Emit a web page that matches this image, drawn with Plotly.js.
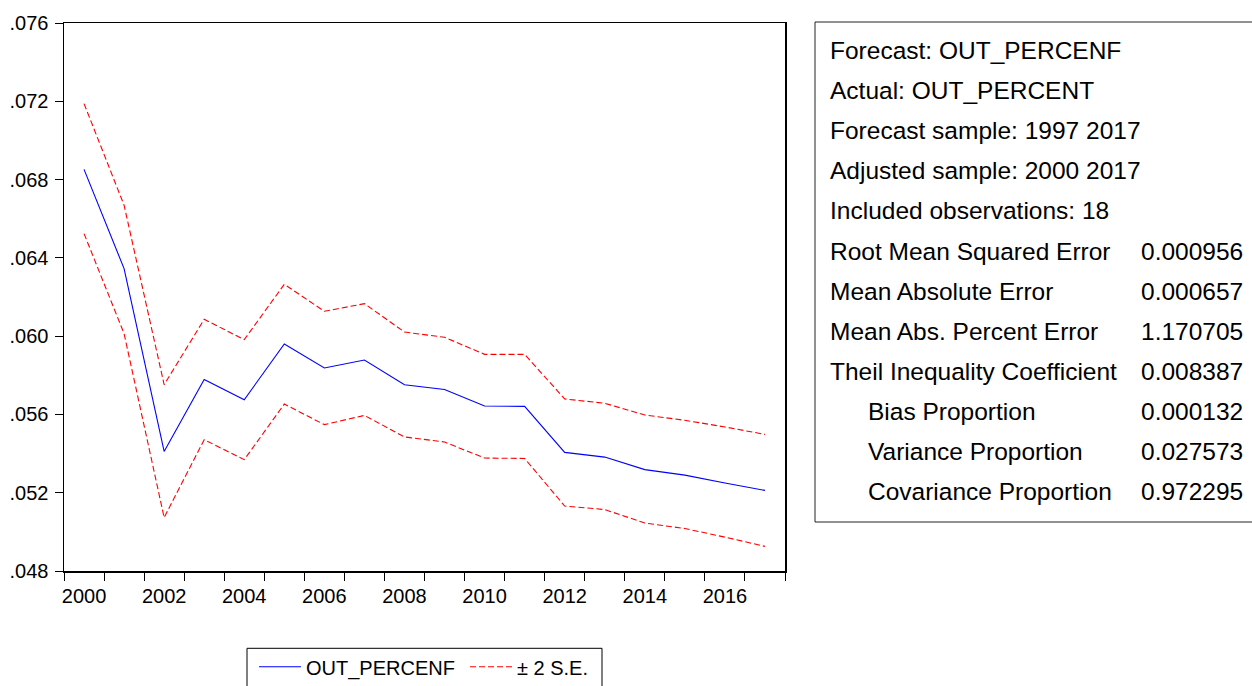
<!DOCTYPE html>
<html>
<head>
<meta charset="utf-8">
<script src="https://cdn.plot.ly/plotly-3.0.1.min.js"></script>
<style>html,body{margin:0;padding:0;background:#fff;}#chart{width:1252px;height:686px;}</style>
</head>
<body>
<div id="chart"></div>
<script>
// ---- data ----
const years = [2000,2001,2002,2003,2004,2005,2006,2007,2008,2009,2010,2011,2012,2013,2014,2015,2016,2017];
const forecast = [0.06852,0.06345,0.05411,0.05778,0.05675,0.05960,0.05837,0.05878,0.05752,0.05727,0.05643,0.05641,0.05406,0.05382,0.05318,0.05290,0.05250,0.05212];
const upperSE = [0.07188,0.06669,0.05752,0.06086,0.05982,0.06265,0.06127,0.06166,0.06021,0.05994,0.05907,0.05907,0.05679,0.05657,0.05597,0.05570,0.05536,0.05498];
const lowerSE = [0.06524,0.06013,0.05073,0.05471,0.05369,0.05653,0.05548,0.05595,0.05485,0.05459,0.05377,0.05375,0.05132,0.05114,0.05045,0.05017,0.04973,0.04926];
const xTickVals = [2000,2002,2004,2006,2008,2010,2012,2014,2016];
const xTickLabels = ["2000","2002","2004","2006","2008","2010","2012","2014","2016"];
const xBoundaryTicks = [1999.5,2000.5,2001.5,2002.5,2003.5,2004.5,2005.5,2006.5,2007.5,2008.5,2009.5,2010.5,2011.5,2012.5,2013.5,2014.5,2015.5,2016.5,2017.5];
const yTickVals = [0.048,0.052,0.056,0.060,0.064,0.068,0.072,0.076];
const yTickLabels = [".048",".052",".056",".060",".064",".068",".072",".076"];
const headerLines = ["Forecast: OUT_PERCENF","Actual: OUT_PERCENT","Forecast sample: 1997 2017","Adjusted sample: 2000 2017","Included observations: 18"];
const statNames = ["Root Mean Squared Error","Mean Absolute Error","Mean Abs. Percent Error","Theil Inequality Coefficient","Bias Proportion","Variance Proportion","Covariance Proportion"];
const statValues = ["0.000956","0.000657","1.170705","0.008387","0.000132","0.027573","0.972295"];
const seriesNames = ["OUT_PERCENF","\u00b1 2 S.E."];

// ---- layout helpers ----
const FONT = '"Liberation Sans", Arial, sans-serif';
const plotTop = 22.7, plotBottom = 570.7, plotLeft = 64, plotRight = 785;
const pw = plotRight - plotLeft, ph = plotBottom - plotTop;
const px2x = p => (p - plotLeft) / pw;
const px2y = p => (plotBottom - p) / ph;

const traces = [
  {x: years, y: forecast, type: 'scatter', mode: 'lines', name: seriesNames[0],
   line: {color: '#0000ff', width: 1.1}, legend: 'legend'},
  {x: years, y: upperSE, type: 'scatter', mode: 'lines', name: seriesNames[1],
   line: {color: '#ff0000', width: 1.1, dash: '6px,3px'}, legendgroup: 'se', legend: 'legend2'},
  {x: years, y: lowerSE, type: 'scatter', mode: 'lines', name: seriesNames[1],
   line: {color: '#ff0000', width: 1.1, dash: '6px,3px'}, legendgroup: 'se', legend: 'legend2', showlegend: false}
];

const annotations = [];
const lineTop = 50, lineStep = 40.15;
const allLabels = headerLines.concat(statNames);
allLabels.forEach((t, i) => {
  const indent = /Proportion/.test(t) ? 38 : 0;
  annotations.push({xref: 'paper', yref: 'paper', x: px2x(828 + indent), y: px2y(lineTop + i * lineStep),
    xanchor: 'left', yanchor: 'middle', text: t, showarrow: false,
    font: {family: FONT, size: 24.5, color: '#000'}});
});
statValues.forEach((v, j) => {
  const i = headerLines.length + j;
  annotations.push({xref: 'paper', yref: 'paper', x: px2x(1245), y: px2y(lineTop + i * lineStep),
    xanchor: 'right', yanchor: 'middle', text: v, showarrow: false,
    font: {family: FONT, size: 24.5, color: '#000'}});
});

const legendBase = {orientation: 'h', yanchor: 'top', xanchor: 'left', borderwidth: 0, bgcolor: 'rgba(0,0,0,0)',
  font: {family: FONT, size: 20, color: '#000'}, itemwidth: 42};

const layout = {
  width: 1252, height: 686,
  margin: {l: plotLeft, r: 1252 - plotRight, t: plotTop, b: 686 - plotBottom, pad: 0, autoexpand: false},
  paper_bgcolor: '#fff', plot_bgcolor: '#fff',
  font: {family: FONT, size: 20, color: '#000'},
  showlegend: true,
  legend: Object.assign({}, legendBase, {x: px2x(254), y: px2y(647)}),
  legend2: Object.assign({}, legendBase, {x: px2x(465), y: px2y(647)}),
  xaxis: {range: [1999.5, 2017.5], tickmode: 'array', tickvals: xTickVals, ticktext: xTickLabels,
    ticks: '', showgrid: false, zeroline: false, showline: true, linecolor: '#000', linewidth: 1.5, mirror: true,
    tickfont: {family: FONT, size: 20, color: '#000'}, ticklabelstandoff: 6,
    minor: {tickmode: 'array', tickvals: xBoundaryTicks, ticks: 'outside', ticklen: 8, tickwidth: 1, tickcolor: '#000', showgrid: false}},
  yaxis: {range: [0.048, 0.076], tickmode: 'array', tickvals: yTickVals, ticktext: yTickLabels,
    ticks: 'outside', ticklen: 8, tickwidth: 1, tickcolor: '#000', ticklabelstandoff: 2,
    showgrid: false, zeroline: false, showline: true, linecolor: '#000', linewidth: 1.5, mirror: true,
    tickfont: {family: FONT, size: 20, color: '#000'}},
  shapes: [
    {type: 'rect', xref: 'paper', yref: 'paper', x0: px2x(815), x1: px2x(1262), y0: px2y(521.7), y1: px2y(21.7),
     line: {color: '#222', width: 1}, fillcolor: 'rgba(0,0,0,0)'},
    {type: 'rect', xref: 'paper', yref: 'paper', x0: px2x(247), x1: px2x(602), y0: px2y(700), y1: px2y(648),
     line: {color: '#000', width: 1}, fillcolor: 'rgba(0,0,0,0)'}
  ],
  annotations: annotations
};

Plotly.newPlot('chart', traces, layout, {staticPlot: true, displayModeBar: false});
</script>
</body>
</html>
